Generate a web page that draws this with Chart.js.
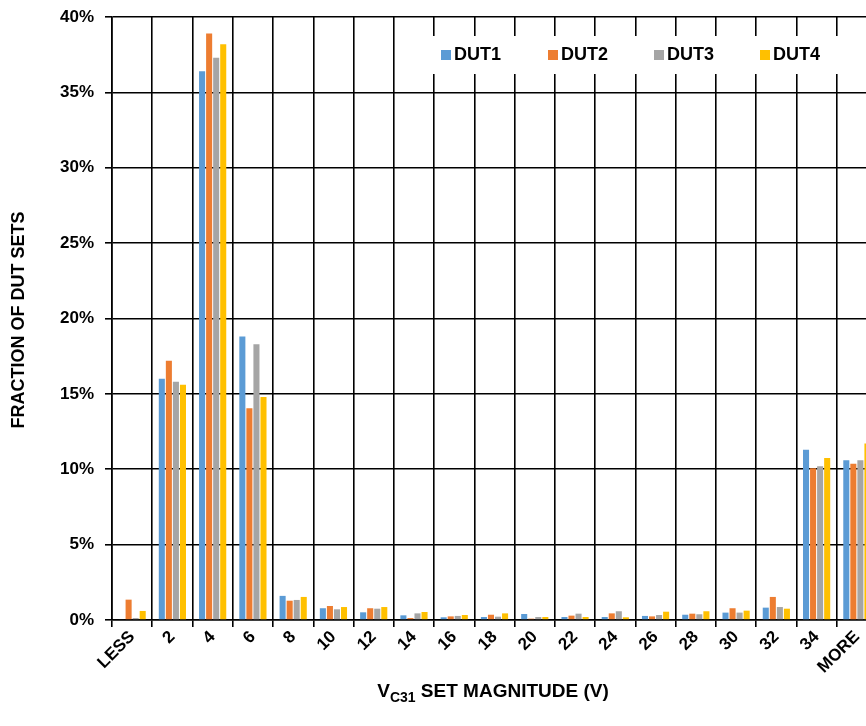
<!DOCTYPE html>
<html>
<head>
<meta charset="utf-8">
<script src="https://cdn.jsdelivr.net/npm/chart.js@4.4.1/dist/chart.umd.min.js"></script>
<style>
html,body{margin:0;padding:0;overflow:hidden;background:#fff;width:866px;height:726px;}
#c{position:absolute;left:0;top:0;}
</style>
</head>
<body>
<canvas id="c" width="877" height="726"></canvas>
<script>
const categories = ["LESS","2","4","6","8","10","12","14","16","18","20","22","24","26","28","30","32","34","MORE"];
const dut1 = [0.05,16.0,36.4,18.8,1.6,0.78,0.51,0.31,0.18,0.2,0.4,0.2,0.2,0.27,0.35,0.49,0.82,11.3,10.6];
const dut2 = [1.35,17.2,38.9,14.05,1.28,0.93,0.78,0.13,0.24,0.35,0.09,0.29,0.44,0.24,0.42,0.78,1.53,10.07,10.37];
const dut3 = [0.13,15.8,37.3,18.3,1.33,0.71,0.75,0.44,0.27,0.22,0.2,0.42,0.58,0.33,0.38,0.49,0.86,10.2,10.6];
const dut4 = [0.6,15.6,38.2,14.8,1.53,0.86,0.86,0.53,0.33,0.44,0.2,0.2,0.18,0.55,0.58,0.62,0.75,10.75,11.7];
const seriesNames = ["DUT1","DUT2","DUT3","DUT4"];
const colors = ["#5B9BD5","#ED7D31","#A5A5A5","#FFC000"];
const yTicks = [0,5,10,15,20,25,30,35,40];

const FONT = "'Liberation Sans', Arial, sans-serif";

const decor = {
  id: 'decor',
  afterDraw(chart) {
    const ctx = chart.ctx;
    ctx.save();
    // legend background
    ctx.fillStyle = '#fff';
    ctx.fillRect(420, 36, 460, 38);
    ctx.font = "bold 18px " + FONT;
    ctx.textBaseline = 'middle';
    ctx.textAlign = 'left';
    const xs = [441, 548, 654, 760];
    seriesNames.forEach((n, i) => {
      ctx.fillStyle = colors[i];
      ctx.fillRect(xs[i], 50, 10, 10);
      ctx.fillStyle = '#000';
      ctx.fillText(n, xs[i] + 13, 55.5);
    });
    // y axis title
    ctx.save();
    ctx.translate(19, 320);
    ctx.rotate(-Math.PI / 2);
    ctx.textAlign = 'center';
    ctx.textBaseline = 'middle';
    ctx.font = "bold 18px " + FONT;
    ctx.fillStyle = '#000';
    ctx.fillText("FRACTION OF DUT SETS", 0, 0);
    ctx.restore();
    // x axis title with subscript
    const p1 = "V", p2 = "C31", p3 = " SET MAGNITUDE (V)";
    const fMain = "bold 19px " + FONT, fSub = "bold 14px " + FONT;
    ctx.font = fMain; const w1 = ctx.measureText(p1).width, w3 = ctx.measureText(p3).width;
    ctx.font = fSub; const w2 = ctx.measureText(p2).width;
    let x = 493 - (w1 + w2 + w3) / 2;
    const y = 697;
    ctx.textAlign = 'left';
    ctx.textBaseline = 'alphabetic';
    ctx.fillStyle = '#000';
    ctx.font = fMain; ctx.fillText(p1, x, y); x += w1;
    ctx.font = fSub; ctx.fillText(p2, x, y + 5); x += w2;
    ctx.font = fMain; ctx.fillText(p3, x, y);
    ctx.restore();
  }
};

const datasets = [dut1, dut2, dut3, dut4].map((d, i) => ({
  label: seriesNames[i],
  data: d,
  backgroundColor: colors[i],
  borderWidth: 0,
  categoryPercentage: 0.7,
  barPercentage: 0.86
}));

new Chart(document.getElementById('c'), {
  type: 'bar',
  data: { labels: categories, datasets },
  options: {
    responsive: false,
    animation: false,
    devicePixelRatio: 1,
    layout: { padding: { top: 17, left: 0, right: 0, bottom: 0 } },
    plugins: { legend: { display: false }, tooltip: { enabled: false } },
    scales: {
      x: {
        offset: true,
        grid: { offset: true, color: '#000', lineWidth: 1.6, tickLength: 7, drawOnChartArea: true },
        border: { color: '#000', width: 1.6 },
        ticks: {
          color: '#000', font: { family: FONT, size: 17, weight: 'bold' },
          maxRotation: 45, minRotation: 45, autoSkip: false, padding: 0
        },
        afterFit(scale) { scale.height = 106; scale.paddingLeft = 0; scale.paddingRight = 0; }
      },
      y: {
        min: 0, max: 40,
        afterBuildTicks(scale) { scale.ticks = yTicks.map(v => ({ value: v })); },
        grid: { color: '#000', lineWidth: 1.6, tickLength: 7 },
        border: { color: '#000', width: 1.6 },
        ticks: {
          color: '#000', font: { family: FONT, size: 17, weight: 'bold' },
          padding: 11,
          callback: v => v + '%'
        },
        afterFit(scale) { scale.width = 112; scale.paddingTop = 0; scale.paddingBottom = 0; }
      }
    }
  },
  plugins: [decor]
});
</script>
</body>
</html>
